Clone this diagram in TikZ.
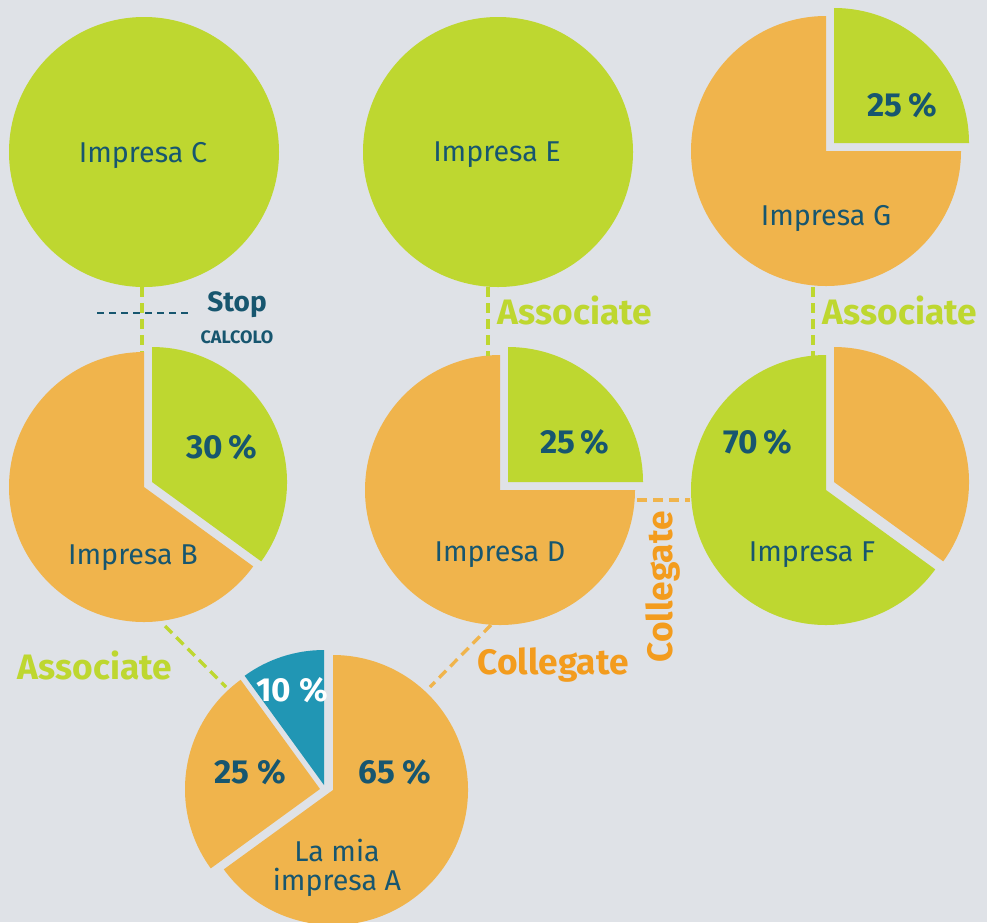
\documentclass[tikz,border=0pt]{standalone}
\usepackage{fontspec}
\setmainfont{Fira Sans}
\definecolor{sfondo}{HTML}{DFE2E7}
\definecolor{verde}{HTML}{BED730}
\definecolor{arancio}{HTML}{F0B44C}
\definecolor{aranciotxt}{HTML}{F39C1E}
\definecolor{blu}{HTML}{2196B4}
\definecolor{testo}{HTML}{17566F}
\tikzset{
  impresa/.style={text=testo, align=center, font=\fontsize{21.5}{22}\selectfont},
  perc/.style={text=testo, font=\bfseries\fontsize{25}{26}\selectfont},
  rel/.style={font=\bfseries\fontsize{26.5}{28}\selectfont},
  legame/.style={line width=2.5pt, dash pattern=on 7.5pt off 4.5pt},
}
% one slice: colour, centre, start angle, end angle
\newcommand{\fetta}[4]{\fill[#1] (#2) -- ++(#3:135) arc[start angle=#3, end angle=#4, radius=135] -- cycle;}
\begin{document}
\begin{tikzpicture}[x=0.75pt, y=0.75pt]
    \fill[sfondo] (0,0) rectangle (987,-922);
    \clip (0,0) rectangle (987,-922);
    % pies
    \fill[verde] (144,-152) circle[radius=135];
    \fill[verde] (498,-152) circle[radius=135];
    \fetta{arancio}{826,-151}{90}{360}
    \fetta{verde}{834,-143}{0}{90}
    \fetta{arancio}{144,-487}{90}{324}
    \fetta{verde}{152,-482}{-36}{90}
    \fetta{arancio}{500,-490}{90}{360}
    \fetta{verde}{508,-482}{0}{90}
    \fetta{verde}{826,-490}{90}{324}
    \fetta{arancio}{834,-482}{-36}{90}
    \fetta{arancio}{333,-790}{-144}{90}
    \fetta{arancio}{320,-789}{126}{216}
    \fetta{blu}{324,-785}{90}{126}
    % connector ends
    \coordinate (Cbot) at (142,-287);  \coordinate (Btop) at (142,-352);
    \coordinate (Ebot) at (488,-287);  \coordinate (Dtop) at (488,-356);
    \coordinate (Gbot) at (813,-287);  \coordinate (Ftop) at (813,-356);
    \coordinate (Bbot) at (165,-626);  \coordinate (Asx) at (226,-687);
    \coordinate (Dbot) at (491,-625);  \coordinate (Adx) at (430,-687);
    \coordinate (Ddx) at (637,-500);   \coordinate (Fsx) at (690,-500);
    \coordinate (stopA) at (97,-313);  \coordinate (stopB) at (190,-313);
    \draw[legame, verde] (Cbot) -- (Btop);
    \draw[legame, verde] (Ebot) -- (Dtop);
    \draw[legame, verde] (Gbot) -- (Ftop);
    \draw[legame, verde] (Bbot) -- (Asx);
    \draw[legame, arancio] (Dbot) -- (Adx);
    \draw[legame, arancio] (Ddx) -- (Fsx);
    \draw[testo, line width=1.5pt, dash pattern=on 5pt off 4pt] (stopA) -- (stopB);
    % labels
    \node[impresa] (impC) at (143,-155) {Impresa C};
    \node[impresa] (impE) at (497,-155) {Impresa E};
    \node[impresa] (impG) at (826,-218) {Impresa G};
    \node[impresa] (impB) at (133,-558) {Impresa B};
    \node[impresa] (impD) at (500,-555) {Impresa D};
    \node[impresa] (impF) at (812,-555) {Impresa F};
    \node[impresa] (impA) at (337,-868) {La mia\\impresa A};
    \node[perc] (pG) at (902,-105) {25\,\%};
    \node[perc] (pB) at (222,-447) {30\,\%};
    \node[perc] (pD) at (575,-442) {25\,\%};
    \node[perc] (pF) at (758,-442) {70\,\%};
    \node[perc, text=white] (pA10) at (292,-690) {10 \%};
    \node[perc] (pA25) at (250,-772) {25 \%};
    \node[perc] (pA65) at (395,-772) {65 \%};
    \node[text=testo, font=\bfseries\fontsize{21}{22}\selectfont] (stop) at (237,-305) {Stop};
    \node[text=testo, font=\bfseries\fontsize{13.5}{14}\selectfont] (calcolo) at (237,-337) {CALCOLO};
    \node[rel, text=verde, anchor=west] (assE) at (493,-310) {Associate};
    \node[rel, text=verde, anchor=west] (assG) at (818,-310) {Associate};
    \node[rel, text=verde] (assB) at (95,-665) {Associate};
    \node[rel, text=aranciotxt] (colD) at (553,-665) {Collegate};
    \node[rel, text=aranciotxt, rotate=90] (colF) at (663,-587) {Collegate};
\end{tikzpicture}
\end{document}
